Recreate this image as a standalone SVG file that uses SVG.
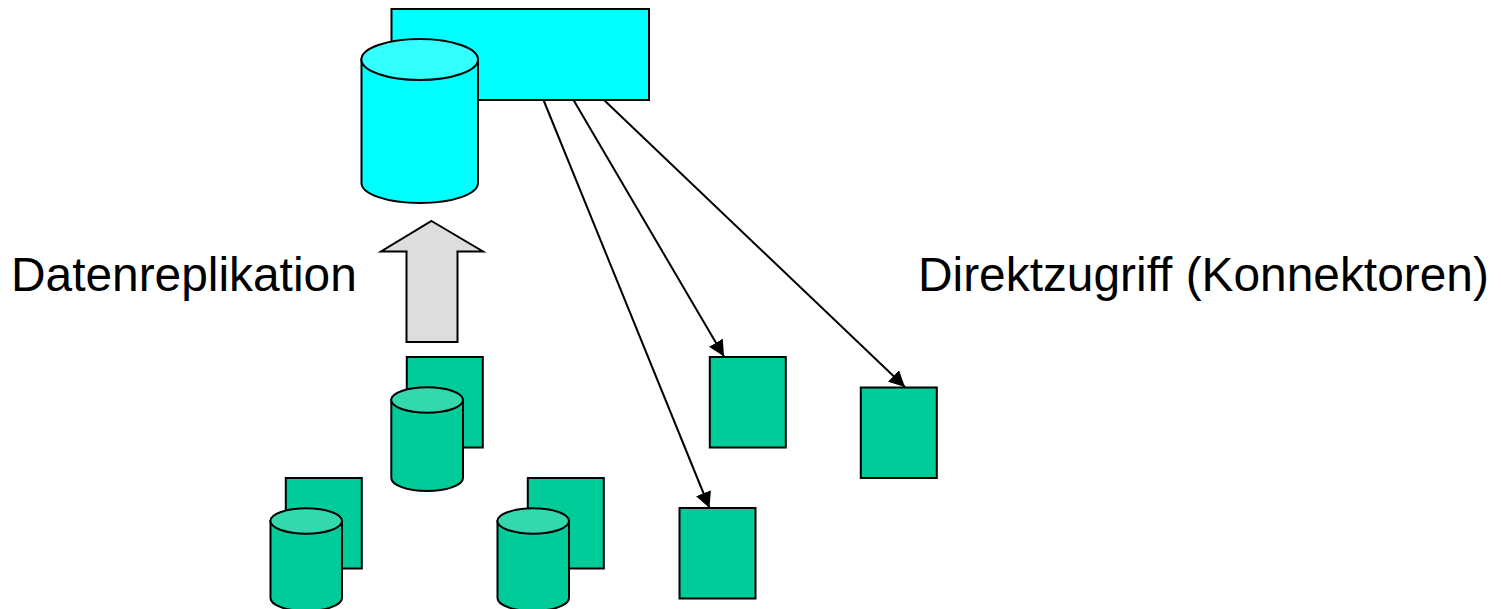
<svg xmlns="http://www.w3.org/2000/svg" width="1501" height="609" viewBox="0 0 1501 609">
<style>
.s{stroke:#000;stroke-width:2}
.c{fill:#00ffff}.g{fill:#00cc99}
.ct{fill:#33ffff}.gt{fill:#33d9ad}
.l{font-family:"Liberation Sans",Arial,sans-serif;font-size:47.85px;fill:#000}
.e{fill:none;stroke:#000;stroke-width:2}
</style>
<defs><marker id="a" markerUnits="userSpaceOnUse" markerWidth="18" markerHeight="16" refX="16" refY="8" orient="auto"><path d="M0 0L16 8L0 16Z" fill="#000"/></marker></defs>
<rect width="1501" height="609" fill="#fff"/>
<g id="server"><rect class="s c" x="391.500" y="9" width="257.500" height="91"/></g>
<g id="server-db">
<path class="s c" d="M361.500 59.500V183C361.500 194 387 203 420 203S478 194 478 183V59.500Z"/>
<ellipse class="s ct" cx="419.700" cy="59.500" rx="58.300" ry="20.500"/>
</g>
<g id="replication-arrow"><path d="M431.500 221L483 251.500H457.500V342H406.500V251.500H381Z" fill="#dddddd" stroke="#000" stroke-width="2"/></g>
<g id="source-1">
<rect class="s g" x="406.800" y="357" width="76" height="90.500"/>
<path class="s g" d="M391.300 400V478C391.300 485 407 491 427 491S463 485 463 478V400Z"/>
<ellipse class="s gt" cx="427.100" cy="400" rx="35.900" ry="12.700"/>
</g>
<g id="source-2">
<rect class="s g" x="285.800" y="478" width="76" height="90.500"/>
<path class="s g" d="M270.500 521V598C270.500 605 286 611 306 611S342 605 342 598V521Z"/>
<ellipse class="s gt" cx="306.200" cy="521" rx="35.800" ry="12.700"/>
</g>
<g id="source-3">
<rect class="s g" x="527.800" y="478" width="76" height="90.500"/>
<path class="s g" d="M497.500 521V598C497.500 605 513 611 533 611S569 605 569 598V521Z"/>
<ellipse class="s gt" cx="533.200" cy="521" rx="35.800" ry="12.700"/>
</g>
<g id="client-1"><rect class="s g" x="709.800" y="357" width="76" height="90.500"/></g>
<g id="client-2"><rect class="s g" x="860.800" y="387.500" width="76" height="90.500"/></g>
<g id="client-3"><rect class="s g" x="679.500" y="508" width="76" height="90.500"/></g>
<g id="connectors">
<path class="e" d="M543.500 100L709.500 508" marker-end="url(#a)"/>
<path class="e" d="M573.500 100L724 356.500" marker-end="url(#a)"/>
<path class="e" d="M604 100L905 387" marker-end="url(#a)"/>
</g>
<g id="labels">
<text class="l" x="11" y="291">Datenreplikation</text>
<text class="l" x="918" y="291">Direktzugriff (Konnektoren)</text>
</g>
</svg>
